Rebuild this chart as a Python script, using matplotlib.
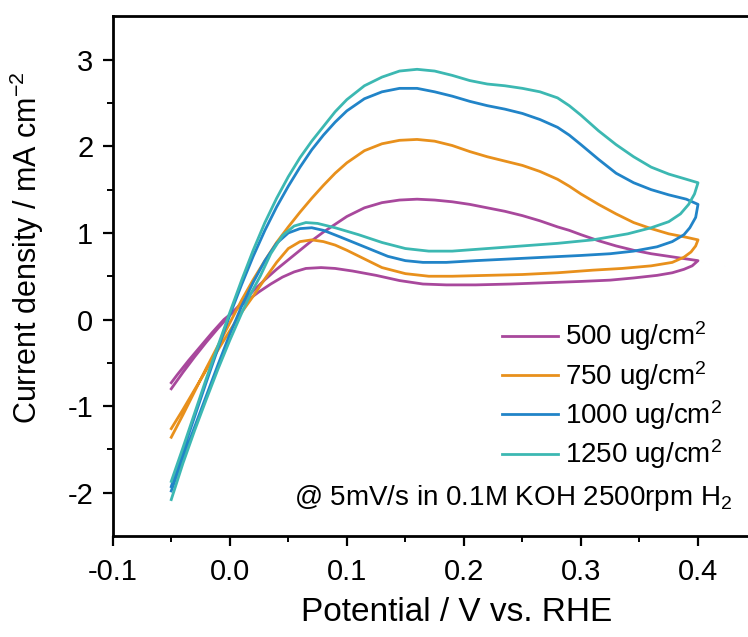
import matplotlib
matplotlib.use("Agg")
import matplotlib.pyplot as plt

plt.rcParams['font.family'] = ['Liberation Sans', 'DejaVu Sans']
plt.rcParams['mathtext.fontset'] = 'custom'
plt.rcParams['mathtext.rm'] = 'Liberation Sans'
plt.rcParams['mathtext.it'] = 'Liberation Sans:italic'

# forward scan (-0.05 -> 0.4), shared potentials
x_fwd = [-0.05, -0.04, -0.03, -0.02, -0.01, 0.0, 0.01, 0.02, 0.03, 0.04, 0.05, 0.06,
         0.07, 0.08, 0.09, 0.10, 0.115, 0.13, 0.145, 0.16, 0.175, 0.19, 0.205, 0.22,
         0.235, 0.25, 0.265, 0.28, 0.29, 0.30, 0.315, 0.33, 0.345, 0.36, 0.375, 0.39, 0.40]

y_fwd_500 = [-0.80, -0.61, -0.43, -0.26, -0.10, 0.05, 0.19, 0.33, 0.46, 0.58, 0.69, 0.80,
             0.91, 1.01, 1.10, 1.19, 1.29, 1.35, 1.38, 1.39, 1.38, 1.36, 1.33, 1.29,
             1.25, 1.20, 1.14, 1.07, 1.03, 0.98, 0.91, 0.85, 0.80, 0.76, 0.73, 0.70, 0.68]
y_fwd_750 = [-1.36, -1.10, -0.83, -0.56, -0.30, -0.04, 0.22, 0.46, 0.68, 0.89, 1.07, 1.24,
             1.40, 1.55, 1.69, 1.81, 1.95, 2.03, 2.07, 2.08, 2.06, 2.01, 1.94, 1.88,
             1.83, 1.78, 1.71, 1.62, 1.54, 1.45, 1.33, 1.22, 1.12, 1.05, 0.99, 0.95, 0.92]
y_fwd_1000 = [-1.93, -1.52, -1.12, -0.72, -0.33, 0.05, 0.40, 0.73, 1.03, 1.30, 1.54, 1.76,
              1.96, 2.13, 2.28, 2.41, 2.55, 2.63, 2.67, 2.67, 2.63, 2.58, 2.52, 2.47,
              2.43, 2.38, 2.31, 2.22, 2.13, 2.02, 1.85, 1.69, 1.58, 1.50, 1.44, 1.39, 1.33]
y_fwd_1250 = [-1.87, -1.48, -1.08, -0.68, -0.30, 0.08, 0.45, 0.80, 1.12, 1.40, 1.65, 1.87,
              2.06, 2.23, 2.40, 2.54, 2.70, 2.80, 2.87, 2.89, 2.87, 2.82, 2.76, 2.72,
              2.70, 2.67, 2.63, 2.56, 2.47, 2.36, 2.18, 2.02, 1.88, 1.76, 1.68, 1.62, 1.58]

# reverse scan (0.4 -> -0.05)
x_rev_500 = [0.40, 0.395, 0.388, 0.378, 0.365, 0.345, 0.325, 0.30, 0.27, 0.24, 0.21, 0.185,
             0.165, 0.145, 0.125, 0.105, 0.09, 0.078, 0.065, 0.055, 0.045, 0.035, 0.025,
             0.015, 0.005, -0.005, -0.015, -0.025, -0.035, -0.045, -0.05]
y_rev_500 = [0.68, 0.62, 0.58, 0.54, 0.51, 0.48, 0.455, 0.44, 0.425, 0.41, 0.40, 0.40,
             0.41, 0.45, 0.51, 0.56, 0.59, 0.60, 0.59, 0.55, 0.49, 0.41, 0.32,
             0.22, 0.11, 0.0, -0.15, -0.31, -0.47, -0.64, -0.73]
x_rev_750 = [0.40, 0.398, 0.394, 0.388, 0.378, 0.36, 0.335, 0.31, 0.28, 0.25, 0.22, 0.19,
             0.17, 0.15, 0.13, 0.115, 0.10, 0.09, 0.08, 0.07, 0.06, 0.05, 0.04, 0.03,
             0.02, 0.01, 0.0, -0.01, -0.02, -0.03, -0.04, -0.05]
y_rev_750 = [0.92, 0.85, 0.78, 0.72, 0.66, 0.62, 0.59, 0.57, 0.54, 0.52, 0.51, 0.50,
             0.50, 0.53, 0.60, 0.70, 0.80, 0.86, 0.90, 0.92, 0.90, 0.82, 0.66, 0.47,
             0.27, 0.08, -0.13, -0.35, -0.58, -0.81, -1.04, -1.26]
x_rev_1000 = [0.40, 0.398, 0.393, 0.388, 0.378, 0.365, 0.345, 0.325, 0.30, 0.27, 0.24, 0.21,
              0.185, 0.165, 0.15, 0.135, 0.115, 0.095, 0.08, 0.07, 0.06, 0.05, 0.04, 0.03,
              0.02, 0.01, 0.0, -0.01, -0.02, -0.03, -0.04, -0.05]
y_rev_1000 = [1.33, 1.18, 1.06, 0.98, 0.90, 0.84, 0.79, 0.76, 0.74, 0.72, 0.70, 0.68,
              0.66, 0.66, 0.68, 0.73, 0.84, 0.95, 1.03, 1.06, 1.05, 1.00, 0.88, 0.68,
              0.43, 0.15, -0.17, -0.52, -0.88, -1.24, -1.60, -1.98]
x_rev_1250 = [0.40, 0.397, 0.392, 0.385, 0.375, 0.36, 0.34, 0.31, 0.28, 0.25, 0.22, 0.19,
              0.17, 0.15, 0.13, 0.11, 0.09, 0.075, 0.065, 0.055, 0.045, 0.035, 0.026,
              0.018, 0.011, 0.0, -0.01, -0.02, -0.03, -0.04, -0.05]
y_rev_1250 = [1.58, 1.45, 1.33, 1.22, 1.13, 1.06, 0.99, 0.92, 0.88, 0.85, 0.82, 0.79,
              0.79, 0.82, 0.89, 0.98, 1.06, 1.11, 1.12, 1.08, 0.97, 0.76, 0.50,
              0.30, 0.10, -0.24, -0.57, -0.92, -1.28, -1.66, -2.08]

labels = ['500 ug/cm$^2$', '750 ug/cm$^2$', '1000 ug/cm$^2$', '1250 ug/cm$^2$']
colors = ['#A8489C', '#E8901C', '#2184C8', '#3CB8B2']

fig = plt.figure(figsize=(7.48, 6.37), dpi=100)
ax = fig.add_axes([0.1507, 0.1586, 0.8493, 0.8155])

curves = [(y_fwd_500, x_rev_500, y_rev_500),
          (y_fwd_750, x_rev_750, y_rev_750),
          (y_fwd_1000, x_rev_1000, y_rev_1000),
          (y_fwd_1250, x_rev_1250, y_rev_1250)]
for (yf, xr, yr), lab, c in zip(curves, labels, colors):
    ax.plot(x_fwd + xr, yf + yr, color=c, lw=2.0, label=lab)

ax.set_xlim(-0.1, 0.4427)
ax.set_ylim(-2.5, 3.5)
ax.set_xticks([-0.1, 0.0, 0.1, 0.2, 0.3, 0.4])
ax.set_xticklabels(['-0.1', '0.0', '0.1', '0.2', '0.3', '0.4'])
ax.set_xticks([-0.05, 0.05, 0.15, 0.25, 0.35], minor=True)
ax.set_yticks([-2, -1, 0, 1, 2, 3])
ax.set_yticklabels(['-2', '-1', '0', '1', '2', '3'])
ax.set_yticks([-1.5, -0.5, 0.5, 1.5, 2.5], minor=True)
ax.spines['right'].set_visible(False)
for s in ['left', 'bottom', 'top']:
    ax.spines[s].set_linewidth(2)
ax.tick_params(which='major', direction='out', length=7, width=1.6, labelsize=21, pad=7)
ax.tick_params(axis='x', which='major', pad=9)
ax.tick_params(which='minor', direction='out', length=4, width=1.4)

ax.set_xlabel('Potential / V vs. RHE', fontsize=24)
ax.xaxis.set_label_coords(0.542, -0.118)
ax.set_ylabel('Current density / mA cm$^{-2}$', fontsize=22)
ax.yaxis.set_label_coords(-0.105, 0.555)

ax.legend(loc='center left', bbox_to_anchor=(0.613, 0.2705), frameon=False, fontsize=20,
          handlelength=2.0, handletextpad=0.25, labelspacing=0.2, borderpad=0, borderaxespad=0)
ax.text(0.975, 0.06, '@ 5mV/s in 0.1M KOH 2500rpm H$_2$', transform=ax.transAxes,
        ha='right', va='baseline', fontsize=20)

plt.savefig('out.png', dpi=100)
